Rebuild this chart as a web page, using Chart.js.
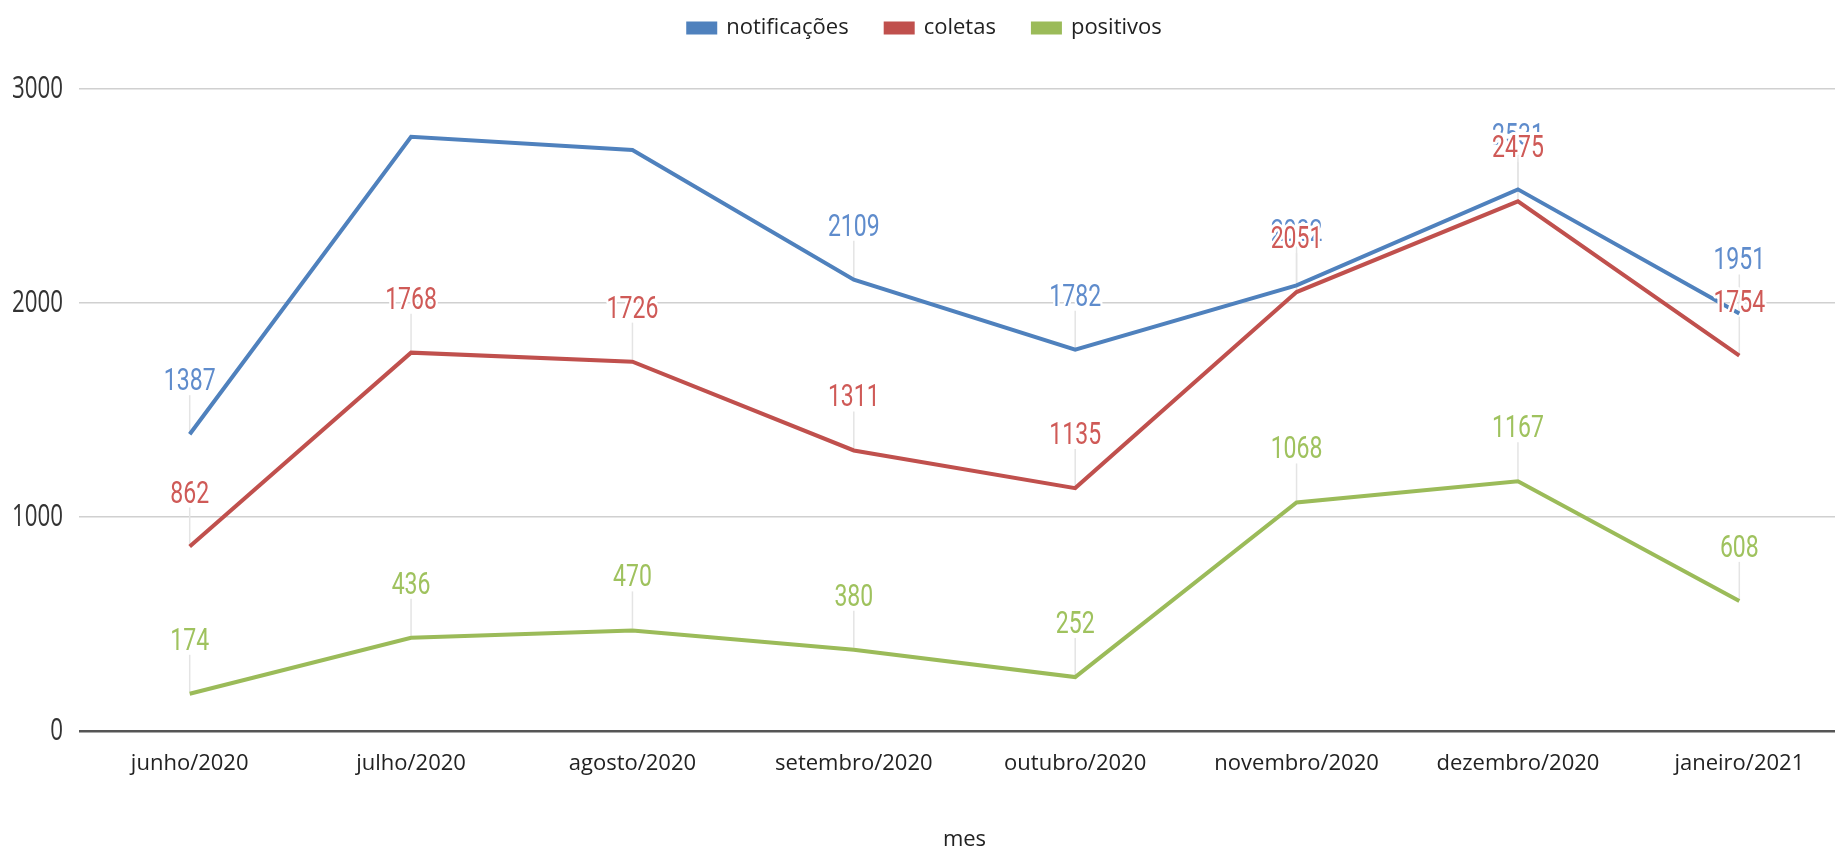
<!DOCTYPE html>
<html><head><meta charset="utf-8">
<script src="https://cdn.jsdelivr.net/npm/chart.js@4.4.1/dist/chart.umd.min.js"></script>
<style>html,body{margin:0;padding:0;background:#fff;overflow:hidden;width:1835px;height:849px}
#wrap{position:absolute;left:0;top:0;width:1850px;height:849px}</style>
</head><body><div id="wrap"><canvas id="c" width="1850" height="849"></canvas></div>
<script>
const categories = ['junho/2020','julho/2020','agosto/2020','setembro/2020','outubro/2020','novembro/2020','dezembro/2020','janeiro/2021'];
const notificacoes = [1387, 2777, 2715, 2109, 1782, 2082, 2531, 1951];
const coletas = [862, 1768, 1726, 1311, 1135, 2051, 2475, 1754];
const positivos = [174, 436, 470, 380, 252, 1068, 1167, 608];
const seriesNames = ['notificações', 'coletas', 'positivos'];
const yTicks = [0, 1000, 2000, 3000];
const axisTitle = 'mes';

const labelColors = ['#5f8ccc', '#cf5a57', '#9fc25e'];

function labelItems(chart){
  const items = [];
  const top = chart.chartArea.top;
  chart.data.datasets.forEach((ds, di)=>{
    const meta = chart.getDatasetMeta(di);
    meta.data.forEach((pt, i)=>{
      const base = pt.y - 44;
      if (base - 23 < top) return;
      items.push({x: pt.x, y: pt.y, base, text: String(ds.data[i]), color: labelColors[di]});
    });
  });
  return items;
}

const labelPlugin = {
  id: 'pointLabels',
  beforeDatasetsDraw(chart){
    const ctx = chart.ctx;
    ctx.save();
    ctx.strokeStyle = '#e4e4e4';
    ctx.lineWidth = 1.5;
    labelItems(chart).forEach(it=>{
      ctx.beginPath();
      ctx.moveTo(it.x, it.base + 5);
      ctx.lineTo(it.x, it.y - 2);
      ctx.stroke();
    });
    ctx.restore();
  },
  afterDatasetsDraw(chart){
    const ctx = chart.ctx;
    labelItems(chart).forEach(it=>{
      ctx.save();
      ctx.translate(it.x, it.base);
      ctx.scale(0.72, 1);
      ctx.font = '32px Roboto';
      ctx.textAlign = 'center';
      ctx.textBaseline = 'alphabetic';
      ctx.lineJoin = 'round';
      ctx.lineWidth = 6;
      ctx.strokeStyle = '#ffffff';
      ctx.strokeText(it.text, 0, 0);
      ctx.fillStyle = it.color;
      ctx.fillText(it.text, 0, 0);
      ctx.restore();
    });
  }
};

const legendPatch = {
  id: 'legendPatch',
  afterInit(chart){
    const lg = chart.legend;
    if (lg){
      const f = lg.fit;
      lg.fit = function(){ f.call(this); if (this.options.display) this.height = 109; };
    }
  },
  afterLayout(chart){
    const s = chart.scales.y;
    if (s && !s._narrowWrapped){
      s._narrowWrapped = true;
      const orig = s.drawLabels;
      s._computeLabelArea = function(){
        return {top: 0, left: -400, bottom: this.chart.height, right: this.right};
      };
      s.drawLabels = function(area){
        const ctx = this.ctx;
        const pivot = this.right - this.options.ticks.padding;
        ctx.save();
        ctx.translate(pivot, 0);
        ctx.scale(0.72, 1);
        ctx.translate(-pivot, 0);
        orig.call(this, area);
        ctx.restore();
      };
    }
  }
};

const openSans = {family:'"Open Sans"', size:22};

new Chart(document.getElementById('c'), {
  type: 'line',
  data: {
    labels: categories,
    datasets: [
      {label: seriesNames[0], data: notificacoes, borderColor:'#4F81BD', backgroundColor:'#4F81BD'},
      {label: seriesNames[1], data: coletas, borderColor:'#C0504D', backgroundColor:'#C0504D'},
      {label: seriesNames[2], data: positivos, borderColor:'#9BBB59', backgroundColor:'#9BBB59'}
    ]
  },
  options: {
    responsive: false,
    animation: false,
    devicePixelRatio: 1,
    layout: {padding: {top: -20, left: 0, right: 0, bottom: 0}},
    elements: {
      line: {borderWidth: 4, tension: 0},
      point: {radius: 0, hoverRadius: 0}
    },
    plugins: {
      legend: {
        position: 'top',
        labels: {boxWidth: 27, boxHeight: 9, padding: 37, color: '#222', font: openSans}
      },
      tooltip: {enabled: false}
    },
    scales: {
      x: {
        offset: true,
        grid: {display: false},
        border: {display: false},
        ticks: {color: '#222', font: openSans, padding: 12, maxRotation: 0, autoSkip: false},
        title: {display: true, text: axisTitle, color: '#222', font: openSans, padding: {top: 0, bottom: -4}},
        afterFit(s){ s.height = 118; }
      },
      y: {
        min: 0, max: 3000,
        afterBuildTicks(s){ s.ticks = yTicks.map(v=>({value: v})); },
        grid: {
          color: c => (c.tick && c.tick.value === 0) ? '#555' : '#d0d0d0',
          lineWidth: c => (c.tick && c.tick.value === 0) ? 2.5 : 1.5,
          drawTicks: false
        },
        border: {display: false},
        ticks: {padding: 16, color: '#333', font: {family:'"Open Sans"', size: 31}, callback: v => String(v)},
        afterFit(s){ s.width = 79; }
      }
    }
  },
  plugins: [legendPatch, labelPlugin]
});
</script></body></html>
